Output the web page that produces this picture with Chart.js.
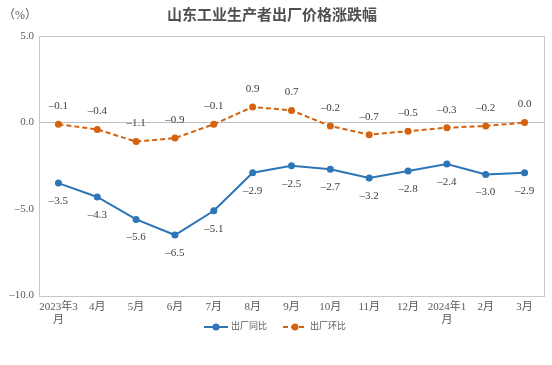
<!DOCTYPE html>
<html>
<head>
<meta charset="utf-8">
<script src="https://cdn.jsdelivr.net/npm/chart.js@4.4.1/dist/chart.umd.min.js"></script>
<style>
  html, body { margin: 0; padding: 0; background: #fff; }
  #wrap { width: 552px; height: 365px; }
</style>
</head>
<body>
<div id="wrap"><canvas id="chart" width="552" height="365"></canvas></div>
<script>
// chart data
var months = [["2023年3", "月"], "4月", "5月", "6月", "7月", "8月", "9月", "10月", "11月", "12月", ["2024年1", "月"], "2月", "3月"];
var yoy = [-3.5, -4.3, -5.6, -6.5, -5.1, -2.9, -2.5, -2.7, -3.2, -2.8, -2.4, -3.0, -2.9];
var mom = [-0.1, -0.4, -1.1, -0.9, -0.1, 0.9, 0.7, -0.2, -0.7, -0.5, -0.3, -0.2, 0.0];
var yTicks = [5, 0, -5, -10];

var blue = '#2e75b6';
var orange = '#d4620f';
var textGray = '#595959';
var serif = '"Liberation Serif", "DejaVu Serif", "Noto Sans CJK SC", serif';

function fmt(v) {
    var s = Math.abs(v).toFixed(1);
    return v < 0 ? '\u2013' + s : s;
}

var decorPlugin = {
    id: 'decor',
    beforeDraw: function (chart) {
        var ctx = chart.ctx;
        ctx.save();
        ctx.fillStyle = '#505050';
        ctx.font = 'bold 15px ' + serif;
        ctx.textAlign = 'center';
        ctx.textBaseline = 'middle';
        ctx.fillText('山东工业生产者出厂价格涨跌幅', 272, 16);
        ctx.font = '12px ' + serif;
        ctx.fillStyle = textGray;
        ctx.fillText('（%）', 20, 16);
        ctx.restore();
    },
    afterDraw: function (chart) {
        var ctx = chart.ctx;
        var a = chart.chartArea;
        ctx.save();
        ctx.strokeStyle = '#c8c8c8';
        ctx.lineWidth = 1;
        ctx.strokeRect(Math.round(a.left) + 0.5, Math.round(a.top) + 0.5,
            Math.round(a.right - a.left), Math.round(a.bottom - a.top));
        // value labels
        ctx.font = '11px ' + serif;
        ctx.fillStyle = '#404040';
        ctx.textAlign = 'center';
        ctx.textBaseline = 'middle';
        chart.data.datasets.forEach(function (ds, di) {
            var meta = chart.getDatasetMeta(di);
            meta.data.forEach(function (pt, i) {
                var off = di === 0 ? 18 : -18;
                ctx.fillText(fmt(ds.data[i]), pt.x, pt.y + off);
            });
        });
        // legend (line + dot + text), sits between the two-line month labels
        var legendX = [204, 283];
        var ly = 327;
        ctx.font = '9px ' + serif;
        ctx.textAlign = 'left';
        chart.data.datasets.forEach(function (ds, di) {
            var x = legendX[di];
            ctx.strokeStyle = ds.borderColor;
            ctx.lineWidth = 2;
            ctx.setLineDash(ds.borderDash || []);
            ctx.beginPath();
            ctx.moveTo(x, ly);
            ctx.lineTo(x + 24, ly);
            ctx.stroke();
            ctx.setLineDash([]);
            ctx.fillStyle = ds.borderColor;
            ctx.beginPath();
            ctx.arc(x + 12, ly, 3.5, 0, Math.PI * 2);
            ctx.fill();
            ctx.fillStyle = textGray;
            ctx.fillText(ds.label, x + 27, ly);
        });
        ctx.restore();
    }
};

var ctx = document.getElementById('chart').getContext('2d');
var chart = new Chart(ctx, {
    type: 'line',
    data: {
        labels: months,
        datasets: [{
            label: '出厂同比',
            data: yoy,
            borderColor: blue,
            backgroundColor: blue,
            borderWidth: 2,
            pointRadius: 3.5,
            pointBorderWidth: 0,
            pointHoverRadius: 3.5,
            tension: 0
        }, {
            label: '出厂环比',
            data: mom,
            borderColor: orange,
            backgroundColor: orange,
            borderWidth: 2,
            borderDash: [5, 3],
            pointRadius: 3.5,
            pointBorderWidth: 0,
            pointHoverRadius: 3.5,
            tension: 0
        }]
    },
    options: {
        responsive: false,
        animation: false,
        layout: { padding: { top: 36, right: 8, left: 0, bottom: 33 } },
        plugins: {
            title: { display: false },
            tooltip: { enabled: false },
            legend: { display: false }
        },
        scales: {
            x: {
                offset: true,
                grid: { display: false, drawTicks: false },
                border: { display: false },
                ticks: {
                    color: textGray,
                    font: { family: serif, size: 11, lineHeight: 1.2 },
                    maxRotation: 0,
                    autoSkip: false,
                    padding: 5
                }
            },
            y: {
                min: -10,
                max: 5,
                afterBuildTicks: function (axis) {
                    axis.ticks = yTicks.map(function (v) { return { value: v }; });
                },
                afterFit: function (axis) { axis.width = 39; },
                grid: {
                    drawTicks: false,
                    color: function (c) { return c.tick && c.tick.value === 0 ? '#bfbfbf' : 'rgba(0,0,0,0)'; },
                    lineWidth: 1
                },
                border: { display: false },
                ticks: {
                    color: textGray,
                    font: { family: serif, size: 11 },
                    padding: 5,
                    callback: function (v) { return fmt(v); }
                }
            }
        }
    },
    plugins: [decorPlugin]
});
</script>
</body>
</html>
